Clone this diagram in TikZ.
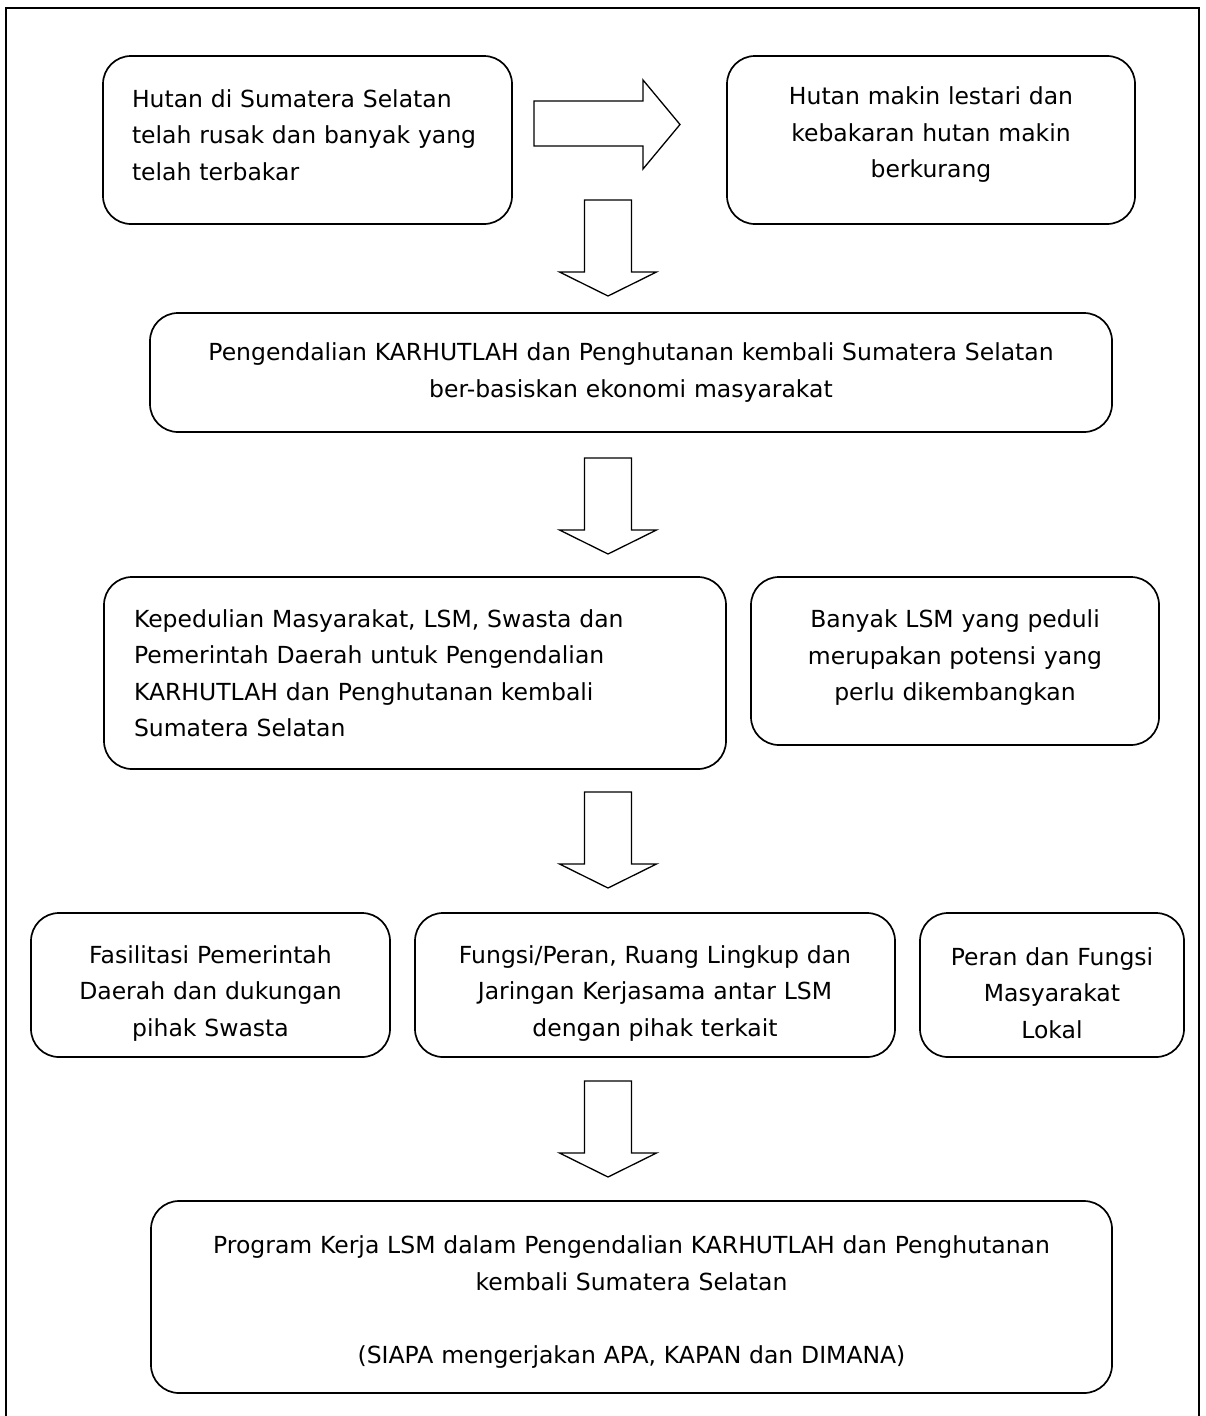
\documentclass[tikz,border=0pt]{standalone}
\usepackage{fontspec}
\setmainfont{DejaVu Sans}
\begin{document}
\begin{tikzpicture}[x=1pt,y=-1pt,
  box/.style={draw, line width=1.7pt, rounded corners=28pt, inner sep=0pt, font=\fontsize{23.5}{36.5}\selectfont},
  blockarrow/.style={draw, line width=1.3pt, fill=white, line join=miter},
  dnarrow/.pic={\draw[blockarrow] (-23.5,0) -- (23.5,0) -- (23.5,72) -- (48.5,72) -- (0,96) -- (-48.5,72) -- (-23.5,72) -- cycle;}]
\useasboundingbox (0,0) rectangle (1205,1416);
\draw[line width=1.6pt] (6,1420) -- (6,8) -- (1199,8) -- (1199,1420);

\node[box, minimum width=409pt, minimum height=168pt, text width=351pt, align=left] (b1) at (307.5,140)
  {Hutan di Sumatera Selatan\\telah rusak dan banyak yang\\telah terbakar\vspace{10pt}};
\node[box, minimum width=408pt, minimum height=168pt, text width=380pt, align=center] (b2) at (931,140)
  {Hutan makin lestari dan\\kebakaran hutan makin\\berkurang\vspace{10pt}};
\node[box, minimum width=962pt, minimum height=119pt, text width=930pt, align=center] (b3) at (631,372.5)
  {Pengendalian KARHUTLAH dan Penghutanan kembali Sumatera Selatan\\ber-basiskan ekonomi masyarakat};
\node[box, minimum width=622pt, minimum height=192pt, text width=562pt, align=left] (b4) at (415,673)
  {Kepedulian Masyarakat, LSM, Swasta dan\\Pemerintah Daerah untuk Pengendalian\\KARHUTLAH dan Penghutanan kembali\\Sumatera Selatan};
\node[box, minimum width=408pt, minimum height=168pt, text width=390pt, align=center] (b5) at (955,661)
  {Banyak LSM yang peduli\\merupakan potensi yang\\perlu dikembangkan\vspace{6pt}};
\node[box, minimum width=359pt, minimum height=144pt, text width=345pt, align=center] (b6) at (210.5,985)
  {\rule{0pt}{34pt}Fasilitasi Pemerintah\\Daerah dan dukungan\\pihak Swasta};
\node[box, minimum width=480pt, minimum height=144pt, text width=466pt, align=center] (b7) at (655,985)
  {\rule{0pt}{34pt}Fungsi/Peran, Ruang Lingkup dan\\Jaringan Kerjasama antar LSM\\dengan pihak terkait};
\node[box, minimum width=264pt, minimum height=144pt, text width=250pt, align=center] (b8) at (1052,985)
  {\rule{0pt}{34pt}Peran dan Fungsi\\Masyarakat\\Lokal};
\node[box, minimum width=961pt, minimum height=192pt, text width=930pt, align=center] (b9) at (631.5,1297)
  {\rule{0pt}{28pt}Program Kerja LSM dalam Pengendalian KARHUTLAH dan Penghutanan\\kembali Sumatera Selatan\\[36.5pt](SIAPA mengerjakan APA, KAPAN dan DIMANA)};

\draw[blockarrow] (534,101) -- (643,101) -- (643,80) -- (680,124.5) -- (643,169) -- (643,146) -- (534,146) -- cycle;
\pic at (608,200) {dnarrow};
\pic at (608,458) {dnarrow};
\pic at (608,792) {dnarrow};
\pic at (608,1081) {dnarrow};
\end{tikzpicture}
\end{document}
